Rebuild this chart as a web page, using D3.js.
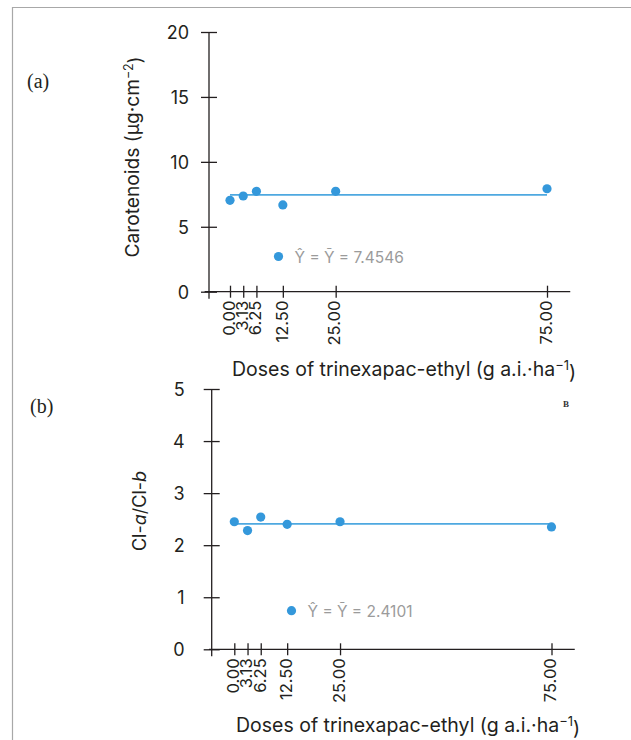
<!DOCTYPE html>
<html>
<head>
<meta charset="utf-8">
<script src="https://cdn.jsdelivr.net/npm/d3@7"></script>
<style>
  html, body { margin: 0; padding: 0; background: #fff; }
  svg { display: block; }
  text { font-family: Inter, Lato, sans-serif; }
</style>
</head>
<body>
<svg id="chart" width="631" height="740"></svg>
<script>
// ---- data ----
const doses = [0, 3.13, 6.25, 12.5, 25, 75];
const doseLabels = ["0.00", "3.13", "6.25", "12.50", "25.00", "75.00"];
const carotenoids = [7.04, 7.37, 7.73, 6.68, 7.73, 7.93];
const carotenoidsMean = 7.4546;
const carotenoidsMeanLabel = "7.4546";
const yTicksA = [0, 5, 10, 15, 20];
const clRatio = [2.45, 2.28, 2.54, 2.40, 2.45, 2.35];
const clRatioMean = 2.4101;
const clRatioMeanLabel = "2.4101";
const yTicksB = [0, 1, 2, 3, 4, 5];
const xTitle = "Doses of trinexapac-ethyl (g a.i.·ha";

const svg = d3.select("#chart");
const dotColor = "#3498db";
const lineColor = "#4ea8e0";
const axisColor = "#231f20";
const FONT = "Inter, Lato, sans-serif";

// frame lines (top and left)
svg.append("line").attr("x1", 12).attr("x2", 631).attr("y1", 7.5).attr("y2", 7.5)
  .attr("stroke", "#a8a8a8").attr("stroke-width", 1.2);
svg.append("line").attr("x1", 12.5).attr("x2", 12.5).attr("y1", 7).attr("y2", 740)
  .attr("stroke", "#a8a8a8").attr("stroke-width", 1.2);

function panel(cfg) {
  const x = d3.scaleLinear().domain([0, 75]).range([cfg.x0, cfg.x75]);
  const y = d3.scaleLinear().domain([0, cfg.yMax]).range([cfg.yBottom, cfg.yTop]);
  const g = svg.append("g");

  // x axis
  g.append("line")
    .attr("x1", x(-6)).attr("x2", x(80.5))
    .attr("y1", y(0)).attr("y2", y(0))
    .attr("stroke", axisColor).attr("stroke-width", 1.3);
  const xa = g.append("g").attr("transform", `translate(0,${y(0)})`)
    .call(d3.axisBottom(x).tickValues(doses).tickFormat((d, i) => doseLabels[i])
      .tickSize(6).tickSizeOuter(0));
  xa.select(".domain").remove();
  xa.selectAll(".tick line").attr("y1", -6).attr("stroke", axisColor).attr("stroke-width", 1.3);
  xa.selectAll(".tick text")
    .attr("transform", "rotate(-90)")
    .attr("x", -9).attr("y", 0).attr("dy", "0.26em")
    .style("text-anchor", "end")
    .style("font-family", FONT)
    .style("font-size", "16.5px")
    .attr("fill", axisColor);

  // y axis
  const x0axis = cfg.yAxisX;
  g.append("line")
    .attr("x1", x0axis).attr("x2", x0axis)
    .attr("y1", y(cfg.yMax)).attr("y2", y(0) + 7)
    .attr("stroke", axisColor).attr("stroke-width", 1.3);
  const ya = g.append("g").attr("transform", `translate(${x0axis},0)`)
    .call(d3.axisLeft(y).tickValues(cfg.yTicks).tickFormat(d3.format("d"))
      .tickSize(8).tickSizeOuter(0));
  ya.select(".domain").remove();
  ya.selectAll(".tick line").attr("x1", 8).attr("stroke", axisColor).attr("stroke-width", 1.3);
  ya.selectAll(".tick text")
    .attr("x", -cfg.labelPad).attr("dy", "0.36em")
    .style("font-family", FONT)
    .style("font-size", "18px")
    .attr("fill", axisColor);

  // mean line
  g.append("line")
    .attr("x1", x(0)).attr("x2", x(75))
    .attr("y1", y(cfg.mean)).attr("y2", y(cfg.mean))
    .attr("stroke", lineColor).attr("stroke-width", 1.6);

  // points
  g.selectAll("circle.pt").data(cfg.values).enter().append("circle")
    .attr("class", "pt")
    .attr("cx", (d, i) => x(doses[i]))
    .attr("cy", d => y(d))
    .attr("r", 4.6)
    .attr("fill", dotColor);

  // legend
  g.append("circle").attr("cx", cfg.legX).attr("cy", cfg.legY).attr("r", 4.6).attr("fill", dotColor);
  g.append("text").attr("x", cfg.legX + 16).attr("y", cfg.legY + 6)
    .style("font-size", "15.5px").attr("fill", "#9b9b9b")
    .text("Ŷ = Ȳ = " + cfg.meanLabel);

  // x title
  const xt = g.append("text").attr("x", cfg.xTitleX).attr("y", cfg.xTitleY)
    .style("font-size", "19.5px").attr("fill", axisColor);
  xt.append("tspan").text(xTitle);
  xt.append("tspan").attr("dy", "-0.45em").style("font-size", "13px").text("−1");
  xt.append("tspan").attr("dy", "0.45em").text(")");

  // y title
  const yt = g.append("text")
    .attr("transform", `translate(${cfg.yTitleX},${cfg.yTitleY}) rotate(-90)`)
    .style("text-anchor", "middle")
    .style("font-size", cfg.yTitleSize).attr("fill", axisColor);
  cfg.yTitle(yt);

  // panel label
  g.append("text").attr("x", cfg.tagX).attr("y", cfg.tagY)
    .style("font-family", "'Liberation Serif', 'DejaVu Serif', serif")
    .style("font-size", "20px").attr("fill", axisColor)
    .text(cfg.tag);
}

panel({
  x0: 230, x75: 547, yAxisX: 209, yBottom: 291.7, yTop: 32, yMax: 20,
  yTicks: yTicksA, labelPad: 20,
  values: carotenoids, mean: carotenoidsMean, meanLabel: carotenoidsMeanLabel,
  legX: 278.5, legY: 256.5,
  xTitleX: 232, xTitleY: 376,
  yTitleX: 139, yTitleY: 157, yTitleSize: "19.2px",
  yTitle: t => {
    t.append("tspan").text("Carotenoids (µg·cm");
    t.append("tspan").attr("dy", "-0.45em").style("font-size", "12.5px").text("−2");
    t.append("tspan").attr("dy", "0.45em").text(")");
  },
  tagX: 27, tagY: 88, tag: "(a)"
});

panel({
  x0: 234.3, x75: 551.5, yAxisX: 211.7, yBottom: 649.3, yTop: 389, yMax: 5,
  yTicks: yTicksB, labelPad: 27,
  values: clRatio, mean: clRatioMean, meanLabel: clRatioMeanLabel,
  legX: 291.5, legY: 610.7,
  xTitleX: 236, xTitleY: 732,
  yTitleX: 146, yTitleY: 511, yTitleSize: "18px",
  yTitle: t => {
    t.append("tspan").text("Cl-");
    t.append("tspan").style("font-style", "italic").text("a");
    t.append("tspan").text("/Cl-");
    t.append("tspan").style("font-style", "italic").text("b");
  },
  tagX: 30, tagY: 413, tag: "(b)"
});

// small stray mark in panel b
svg.append("text").attr("x", 566).attr("y", 407)
  .style("font-family", "'Liberation Serif', serif").style("font-size", "9px")
  .style("font-weight", "bold").style("text-anchor", "middle")
  .attr("fill", "#333").text("B");
</script>
</body>
</html>
